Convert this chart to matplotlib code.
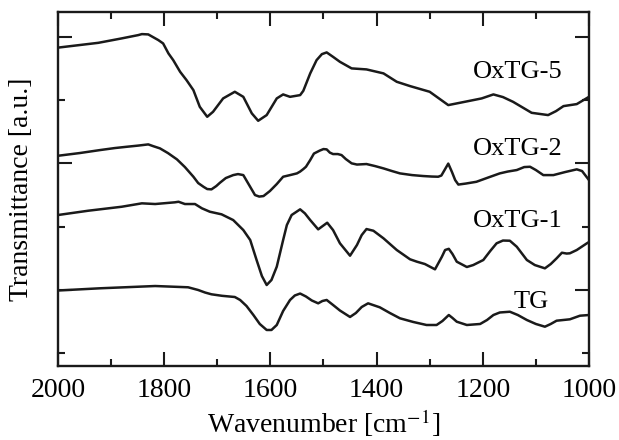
import numpy as np
import matplotlib
matplotlib.use('Agg')
import matplotlib.pyplot as plt
from matplotlib.ticker import MultipleLocator, FixedLocator, NullFormatter

plt.rcParams['font.family'] = ['Liberation Serif', 'DejaVu Serif']
plt.rcParams['mathtext.fontset'] = 'stix'

# FT-IR spectra as (wavenumber, transmittance) pairs, already offset (a.u.)
tg = [(2000, 0.989), (1921, 1.024), (1817, 1.060), (1755, 1.040), (1736, 0.997),
      (1723, 0.957), (1711, 0.929), (1691, 0.905), (1667, 0.886), (1657, 0.839),
      (1645, 0.744), (1632, 0.601), (1620, 0.459), (1607, 0.364), (1598, 0.364),
      (1588, 0.443), (1576, 0.665), (1563, 0.839), (1554, 0.910), (1544, 0.941),
      (1533, 0.894), (1522, 0.831), (1510, 0.786), (1502, 0.823), (1494, 0.839),
      (1482, 0.760), (1469, 0.672), (1450, 0.570), (1439, 0.633), (1428, 0.728),
      (1416, 0.786), (1394, 0.723), (1375, 0.633), (1356, 0.549), (1331, 0.491),
      (1306, 0.443), (1287, 0.443), (1276, 0.506), (1264, 0.601), (1257, 0.554),
      (1249, 0.495), (1230, 0.443), (1205, 0.459), (1192, 0.522), (1180, 0.601),
      (1168, 0.641), (1149, 0.653), (1134, 0.601), (1117, 0.522), (1100, 0.459),
      (1083, 0.416), (1072, 0.459), (1061, 0.511), (1036, 0.533), (1017, 0.590),
      (1000, 0.601)]

oxtg1 = [(2000, 2.184), (1943, 2.252), (1880, 2.315), (1842, 2.369), (1817, 2.358),
         (1780, 2.385), (1773, 2.394), (1761, 2.358), (1742, 2.358), (1729, 2.290),
         (1714, 2.236), (1692, 2.195), (1670, 2.104), (1651, 1.946), (1638, 1.788),
         (1626, 1.472), (1616, 1.218), (1607, 1.076), (1598, 1.155), (1588, 1.366),
         (1576, 1.788), (1569, 2.025), (1560, 2.184), (1544, 2.274), (1535, 2.210),
         (1525, 2.104), (1510, 1.957), (1493, 2.062), (1482, 1.946), (1469, 1.736),
         (1450, 1.540), (1437, 1.709), (1428, 1.867), (1419, 1.962), (1406, 1.935),
         (1387, 1.815), (1362, 1.630), (1337, 1.483), (1324, 1.445), (1309, 1.408),
         (1290, 1.324), (1277, 1.524), (1271, 1.630), (1264, 1.649), (1257, 1.566),
         (1249, 1.445), (1230, 1.361), (1218, 1.392), (1199, 1.472), (1186, 1.614),
         (1174, 1.736), (1162, 1.780), (1149, 1.777), (1136, 1.682), (1117, 1.472),
         (1102, 1.392), (1083, 1.340), (1072, 1.408), (1061, 1.498), (1051, 1.587),
         (1042, 1.574), (1036, 1.578), (1023, 1.630), (1004, 1.736), (1000, 1.756)]

oxtg2 = [(2000, 3.122), (1959, 3.165), (1921, 3.212), (1893, 3.244), (1871, 3.264),
         (1849, 3.283), (1830, 3.302), (1821, 3.275), (1808, 3.239), (1793, 3.165),
         (1776, 3.065), (1761, 2.943), (1745, 2.790), (1736, 2.690), (1726, 2.631),
         (1719, 2.595), (1711, 2.590), (1702, 2.642), (1695, 2.695), (1684, 2.769),
         (1670, 2.816), (1661, 2.832), (1651, 2.816), (1640, 2.658), (1629, 2.500),
         (1621, 2.476), (1613, 2.484), (1601, 2.563), (1588, 2.674), (1576, 2.790),
         (1563, 2.816), (1550, 2.843), (1544, 2.872), (1538, 2.911), (1533, 2.948),
         (1525, 3.054), (1518, 3.157), (1507, 3.204), (1500, 3.228), (1494, 3.223),
         (1488, 3.172), (1482, 3.149), (1473, 3.149), (1466, 3.133), (1458, 3.070),
         (1447, 3.002), (1437, 2.983), (1419, 2.991), (1403, 2.959), (1387, 2.922),
         (1371, 2.880), (1356, 2.843), (1333, 2.816), (1312, 2.801), (1296, 2.793),
         (1284, 2.790), (1278, 2.809), (1272, 2.896), (1265, 2.998), (1258, 2.864),
         (1252, 2.737), (1246, 2.666), (1232, 2.682), (1212, 2.710), (1190, 2.777),
         (1168, 2.843), (1153, 2.872), (1136, 2.896), (1122, 2.943), (1111, 2.948),
         (1100, 2.896), (1086, 2.816), (1067, 2.816), (1045, 2.864), (1023, 2.907),
         (1013, 2.880), (1000, 2.737)]

oxtg5 = [(2000, 4.834), (1924, 4.910), (1880, 4.980), (1849, 5.032), (1842, 5.048),
         (1830, 5.043), (1811, 4.953), (1802, 4.900), (1792, 4.742), (1783, 4.636),
         (1770, 4.451), (1758, 4.320), (1745, 4.161), (1733, 3.897), (1719, 3.739),
         (1708, 3.818), (1689, 4.030), (1667, 4.135), (1651, 4.055), (1635, 3.793),
         (1623, 3.676), (1607, 3.766), (1588, 4.030), (1576, 4.093), (1563, 4.055),
         (1544, 4.082), (1538, 4.150), (1525, 4.426), (1513, 4.636), (1503, 4.731),
         (1494, 4.758), (1482, 4.688), (1469, 4.609), (1447, 4.505), (1419, 4.489),
         (1387, 4.426), (1362, 4.293), (1337, 4.225), (1300, 4.135), (1265, 3.924),
         (1234, 3.976), (1202, 4.030), (1180, 4.093), (1162, 4.051), (1143, 3.976),
         (1108, 3.802), (1077, 3.766), (1062, 3.829), (1048, 3.908), (1023, 3.940),
         (1000, 4.055)]

spectra = [tg, oxtg1, oxtg2, oxtg5]
names = ['TG', 'OxTG-1', 'OxTG-2', 'OxTG-5']
label_x = [1075, 1050, 1050, 1050]
label_y = [0.71, 1.99, 3.13, 4.35]

fig = plt.figure(figsize=(6.19, 4.40), dpi=100)
ax = fig.add_axes([0.0937, 0.1682, 0.8578, 0.8034])

for spec in spectra:
    wn, tr = zip(*spec)
    ax.plot(wn, tr, color='#1a1a1a', lw=1.8, solid_joinstyle='round',
            solid_capstyle='round')

for name, lx, ly in zip(names, label_x, label_y):
    ax.text(lx, ly, name, ha='right', va='baseline', fontsize=19)

ax.set_xlim(2000, 1000)
ax.set_ylim(-0.206, 5.39)
ax.xaxis.set_major_locator(MultipleLocator(200))
ax.xaxis.set_minor_locator(MultipleLocator(100))
ax.yaxis.set_major_locator(FixedLocator([1, 3, 5]))
ax.yaxis.set_minor_locator(FixedLocator([0, 2, 4]))
ax.yaxis.set_major_formatter(NullFormatter())

ax.tick_params(which='both', direction='in', top=True, right=True, width=1.5,
               labelsize=20, pad=9, color='#1a1a1a')
ax.tick_params(which='major', length=10)
ax.tick_params(which='minor', length=5)
for s in ax.spines.values():
    s.set_linewidth(1.7)
    s.set_color('#1a1a1a')

ax.set_xlabel('Wavenumber [cm$^{-1}$]', fontsize=20, labelpad=3)
ax.set_ylabel('Transmittance [a.u.]', fontsize=20, labelpad=8)

fig.savefig('out.png', dpi=100)
